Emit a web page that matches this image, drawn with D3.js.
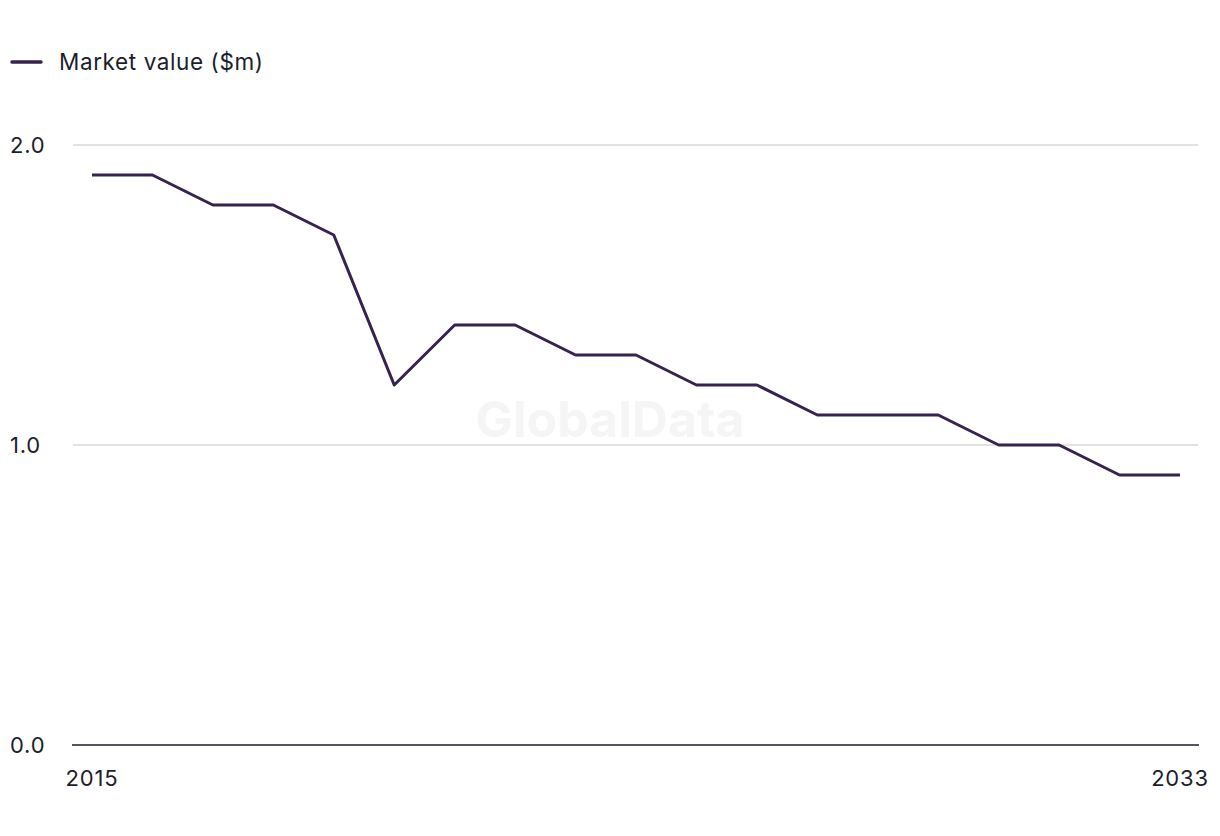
<!DOCTYPE html>
<html><head><meta charset="utf-8">
<script src="https://cdn.jsdelivr.net/npm/d3@7"></script>
<style>body{margin:0;background:#fff;}svg{display:block;font-family:Inter,"Noto Sans",sans-serif;}</style>
</head><body>
<svg id="c" width="1220" height="836"></svg>
<script>
const years = [2015,2016,2017,2018,2019,2020,2021,2022,2023,2024,2025,2026,2027,2028,2029,2030,2031,2032,2033];
const marketValue = [1.9,1.9,1.8,1.8,1.7,1.2,1.4,1.4,1.3,1.3,1.2,1.2,1.1,1.1,1.1,1.0,1.0,0.9,0.9];
const yTicks = [0,1,2];
const xTickLabels = [2015,2033];
const seriesName = "Market value ($m)";

const svg = d3.select("#c");
const x = d3.scaleLinear().domain([2015,2033]).range([92,1180]);
const y = d3.scaleLinear().domain([0,2]).range([745,145]);
const lineColor = "#36234f", textColor = "#1d1d2b";

// watermark
svg.append("text").attr("x",610).attr("y",437).attr("text-anchor","middle")
  .attr("font-size",50).attr("font-weight",700).attr("fill","#f5f5f5").text("GlobalData");

// gridlines
svg.append("g").selectAll("line").data(yTicks.filter(d=>d>0)).join("line")
  .attr("x1",73).attr("x2",1198).attr("y1",d=>y(d)).attr("y2",d=>y(d))
  .attr("stroke","#d9d9d9").attr("stroke-width",1.5);
// y labels
svg.append("g").selectAll("text").data(yTicks).join("text")
  .attr("x",10).attr("y",d=>y(d)+8).attr("font-size",22).attr("letter-spacing",0.8).attr("fill",textColor)
  .text(d=>d3.format(".1f")(d));
// baseline
svg.append("line").attr("x1",72).attr("x2",1199).attr("y1",y(0)).attr("y2",y(0))
  .attr("stroke",textColor).attr("stroke-width",1.5);
// x labels
svg.append("g").selectAll("text").data(xTickLabels).join("text")
  .attr("x",d=>x(d)).attr("y",786).attr("text-anchor","middle").attr("font-size",22).attr("letter-spacing",0.8)
  .attr("fill",textColor).text(d=>d);

// line
svg.append("path").datum(years.map((d,i)=>[d,marketValue[i]]))
  .attr("fill","none").attr("stroke",lineColor).attr("stroke-width",3).attr("stroke-linejoin","round")
  .attr("d",d3.line().x(d=>x(d[0])).y(d=>y(d[1])));

// legend
svg.append("line").attr("x1",12).attr("x2",41).attr("y1",62).attr("y2",62)
  .attr("stroke",lineColor).attr("stroke-width",3.5).attr("stroke-linecap","round");
svg.append("text").attr("x",59).attr("y",70).attr("font-size",22.5).attr("letter-spacing",0.6).attr("fill",textColor).text(seriesName);
</script>
</body></html>
